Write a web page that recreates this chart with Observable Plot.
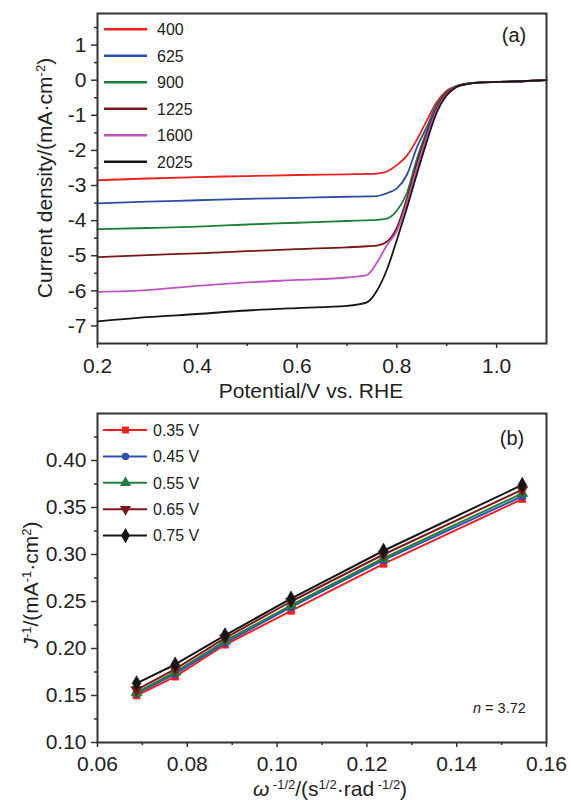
<!DOCTYPE html>
<html><head><meta charset="utf-8">
<script src="https://cdn.jsdelivr.net/npm/d3@7"></script>
<script src="https://cdn.jsdelivr.net/npm/@observablehq/plot@0.6"></script>
<style>
body{margin:0;background:#fff;font-family:"Liberation Sans",Arial,sans-serif;}
#wrap{position:relative;width:571px;height:800px;overflow:hidden;background:#fff;}
.abs{position:absolute;white-space:nowrap;color:#222;line-height:1;}
.abs sup{font-size:0.62em;position:relative;top:-0.55em;vertical-align:baseline;line-height:0;}
</style></head><body><div id="wrap"></div>
<script>
// ---------- Panel (a): LSV curves at several rotation rates ----------
const potential = [0.2, 0.3, 0.4, 0.5, 0.6, 0.7, 0.74, 0.76, 0.78, 0.8, 0.82, 0.84, 0.86, 0.88, 0.9, 0.92, 0.94, 0.97, 1.0, 1.05, 1.1];
const rpmLabels = ["400", "625", "900", "1225", "1600", "2025"];
const j400  = [-2.85, -2.80, -2.76, -2.73, -2.70, -2.68, -2.67, -2.66, -2.60, -2.42, -2.15, -1.70, -1.15, -0.62, -0.30, -0.16, -0.10, -0.06, -0.05, -0.03, 0.00];
const j625  = [-3.51, -3.46, -3.42, -3.38, -3.35, -3.32, -3.31, -3.30, -3.22, -3.08, -2.70, -1.92, -1.33, -0.70, -0.33, -0.17, -0.10, -0.06, -0.05, -0.03, 0.00];
const j900  = [-4.24, -4.21, -4.17, -4.11, -4.06, -4.01, -3.99, -3.98, -3.94, -3.72, -3.22, -2.25, -1.45, -0.75, -0.35, -0.17, -0.10, -0.06, -0.05, -0.03, 0.00];
const j1225 = [-5.04, -4.98, -4.93, -4.87, -4.81, -4.76, -4.73, -4.71, -4.60, -4.20, -3.38, -2.38, -1.52, -0.80, -0.37, -0.18, -0.11, -0.06, -0.05, -0.03, 0.00];
const j1600 = [-6.03, -5.98, -5.86, -5.76, -5.69, -5.62, -5.55, -5.20, -4.70, -4.30, -3.50, -2.52, -1.62, -0.85, -0.40, -0.18, -0.11, -0.06, -0.05, -0.03, 0.00];
const j2025 = [-6.87, -6.75, -6.66, -6.56, -6.49, -6.43, -6.33, -6.00, -5.40, -4.55, -3.65, -2.68, -1.75, -0.92, -0.43, -0.19, -0.11, -0.06, -0.05, -0.03, 0.00];
const rpmColors = ["#ef1f1f", "#2d4ca8", "#1c7f3a", "#7a1618", "#c055c0", "#151515"];
const aXTicks = [0.2, 0.4, 0.6, 0.8, 1.0];
const aXMinor = [0.3, 0.5, 0.7, 0.9];
const aYTicks = [-7, -6, -5, -4, -3, -2, -1, 0, 1];
const aYMinor = [-6.5, -5.5, -4.5, -3.5, -2.5, -1.5, -0.5, 0.5, 1.5];

// ---------- Panel (b): Koutecky-Levich plots ----------
const omegaInvSqrt = [0.0687, 0.0773, 0.0884, 0.1031, 0.1237, 0.1546];
const biasLabels = ["0.35 V", "0.45 V", "0.55 V", "0.65 V", "0.75 V"];
const inv035 = [0.150, 0.170, 0.204, 0.240, 0.290, 0.359];
const inv045 = [0.152, 0.173, 0.206, 0.244, 0.294, 0.362];
const inv055 = [0.153, 0.175, 0.208, 0.246, 0.296, 0.365];
const inv065 = [0.156, 0.178, 0.211, 0.250, 0.300, 0.369];
const inv075 = [0.163, 0.183, 0.214, 0.253, 0.304, 0.374];
const biasColors = ["#f02020", "#3050b0", "#208040", "#801818", "#151515"];
const bXTicks = [0.06, 0.08, 0.10, 0.12, 0.14, 0.16];
const bXMinor = [0.07, 0.09, 0.11, 0.13, 0.15];
const bYTicks = [0.10, 0.15, 0.20, 0.25, 0.30, 0.35, 0.40];
const bYMinor = [0.125, 0.175, 0.225, 0.275, 0.325, 0.375, 0.425];
const nValue = "3.72";

// ---------- build tables ----------
const aSeries = [j400, j625, j900, j1225, j1600, j2025];
const lsv = rpmLabels.flatMap((r, i) => potential.map((p, k) => ({rpm: r, E: p, J: aSeries[i][k]})));
const bSeries = [inv035, inv045, inv055, inv065, inv075];
const kl = biasLabels.flatMap((b, i) => omegaInvSqrt.map((w, k) => ({bias: b, w, inv: bSeries[i][k]})));

const triangleDown = {
  draw(context, size) {
    const s3 = Math.sqrt(3);
    const y = -Math.sqrt(size / (s3 * 3));
    context.moveTo(0, -y * 2);
    context.lineTo(-s3 * y, y);
    context.lineTo(s3 * y, y);
    context.closePath();
  }
};
const plotSymbols = ["square", "circle", "triangle", triangleDown, "diamond"];
const legendSymbols = [d3.symbolSquare, d3.symbolCircle, d3.symbolTriangle, triangleDown, d3.symbolDiamond];
const symbolR = [3.9, 3.7, 4.2, 4.2, 4.6];

const FONT = "Liberation Sans, Arial, sans-serif";
const axisStyle = {stroke: "#333", strokeWidth: 1.5};
const wrap = document.getElementById("wrap");

const plotA = Plot.plot({
  width: 571, height: 400,
  marginLeft: 97, marginRight: 25, marginTop: 13, marginBottom: 57,
  style: {fontFamily: FONT, fontSize: "21px", color: "#222", background: "transparent"},
  x: {domain: [0.2, 1.1]},
  y: {domain: [-7.5, 1.9]},
  marks: [
    Plot.axisX(aXTicks, {tickFormat: d => d.toFixed(1), tickSize: 5, tickPadding: 10, label: null, ...axisStyle}),
    Plot.axisX(aXMinor, {tickFormat: () => "", tickSize: 3, label: null, ...axisStyle}),
    Plot.axisY(aYTicks, {tickFormat: d => String(d), tickSize: 6, tickPadding: 5, label: null, ...axisStyle}),
    Plot.axisY(aYMinor, {tickFormat: () => "", tickSize: 3, label: null, ...axisStyle}),
    Plot.line(lsv, {x: "E", y: "J", z: "rpm", stroke: d => rpmColors[rpmLabels.indexOf(d.rpm)], strokeWidth: 1.8, curve: "monotone-x"}),
    Plot.frame({stroke: "#333", strokeWidth: 2})
  ]
});

const dotMarks = biasLabels.map((b, i) => Plot.dot(kl.filter(d => d.bias === b), {
  x: "w", y: "inv", symbol: plotSymbols[i], r: symbolR[i], fill: biasColors[i], stroke: biasColors[i], strokeWidth: 0.6
}));

const plotB = Plot.plot({
  width: 571, height: 400,
  marginLeft: 97, marginRight: 25, marginTop: 13, marginBottom: 58,
  style: {fontFamily: FONT, fontSize: "21px", color: "#222", background: "transparent"},
  x: {domain: [0.06, 0.16]},
  y: {domain: [0.10, 0.45]},
  marks: [
    Plot.axisX(bXTicks, {tickFormat: d => d.toFixed(2), tickSize: 5, tickPadding: 9, label: null, ...axisStyle}),
    Plot.axisX(bXMinor, {tickFormat: () => "", tickSize: 3, label: null, ...axisStyle}),
    Plot.axisY(bYTicks, {tickFormat: d => d.toFixed(2), tickSize: 6, tickPadding: 5, label: null, ...axisStyle}),
    Plot.axisY(bYMinor, {tickFormat: () => "", tickSize: 3, label: null, ...axisStyle}),
    Plot.line(kl, {x: "w", y: "inv", z: "bias", stroke: d => biasColors[biasLabels.indexOf(d.bias)], strokeWidth: 2}),
    ...dotMarks,
    Plot.frame({stroke: "#333", strokeWidth: 2})
  ]
});

function place(node, top) {
  node.style.position = "absolute";
  node.style.left = "0px";
  node.style.top = top + "px";
  wrap.appendChild(node);
}
place(plotA, 0);
place(plotB, 400);

function label(html, x, y, size, rotate) {
  const d = document.createElement("div");
  d.className = "abs";
  d.innerHTML = html;
  d.style.left = x + "px";
  d.style.top = y + "px";
  d.style.fontSize = size + "px";
  d.style.transform = rotate ? "translate(-50%,-50%) rotate(-90deg)" : "translate(-50%,-50%)";
  wrap.appendChild(d);
}
label("Potential/V vs. RHE", 311, 390, 21, false);
label("Current density/(mA·cm<sup>-2</sup>)", 44, 178, 21, true);
label("<i>J</i><sup>-1</sup>/(mA<sup>-1</sup>·cm<sup>2</sup>)", 30, 585, 21, true);
label("<i>ω</i><sup> -1/2</sup>/(s<sup>1/2</sup>·rad<sup> -1/2</sup>)", 330, 788, 21, false);

// ---------- legends & annotations ----------
const ov = d3.select(wrap).append("svg")
  .attr("width", 571).attr("height", 800)
  .style("position", "absolute").style("left", "0px").style("top", "0px")
  .style("pointer-events", "none")
  .style("font-family", FONT);

rpmLabels.forEach((r, i) => {
  const y = 29.3 + i * 26.5;
  ov.append("line").attr("x1", 104).attr("x2", 147).attr("y1", y).attr("y2", y)
    .attr("stroke", rpmColors[i]).attr("stroke-width", 2.5);
  ov.append("text").attr("x", 157).attr("y", y).attr("dy", "0.36em")
    .attr("font-size", 16).attr("fill", "#222").text(r);
});

biasLabels.forEach((b, i) => {
  const y = 430 + i * 26.4;
  ov.append("line").attr("x1", 103).attr("x2", 147).attr("y1", y).attr("y2", y)
    .attr("stroke", biasColors[i]).attr("stroke-width", 2);
  ov.append("path").attr("d", d3.symbol(legendSymbols[i], Math.PI * symbolR[i] * symbolR[i])())
    .attr("transform", `translate(125.5,${y})`).attr("fill", biasColors[i]);
  ov.append("text").attr("x", 153).attr("y", y).attr("dy", "0.36em")
    .attr("font-size", 16).attr("fill", "#222").text(b);
});

ov.append("text").attr("x", 514).attr("y", 35).attr("dy", "0.36em").attr("text-anchor", "middle")
  .attr("font-size", 20).attr("fill", "#222").text("(a)");
ov.append("text").attr("x", 512).attr("y", 438).attr("dy", "0.36em").attr("text-anchor", "middle")
  .attr("font-size", 20).attr("fill", "#222").text("(b)");
const nt = ov.append("text").attr("x", 473).attr("y", 708).attr("dy", "0.36em")
  .attr("font-size", 14.5).attr("fill", "#222");
nt.append("tspan").attr("font-style", "italic").text("n");
nt.append("tspan").text(" = " + nValue);
</script></body></html>
